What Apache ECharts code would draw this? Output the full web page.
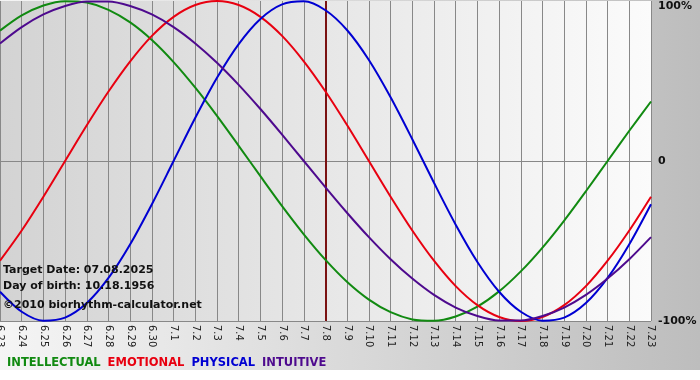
<!DOCTYPE html>
<html>
<head>
<meta charset="utf-8">
<script src="https://cdn.jsdelivr.net/npm/echarts@6/dist/echarts.min.js"></script>
<style>html,body{margin:0;padding:0;background:#fff}#c{width:700px;height:380px}</style>
</head>
<body>
<div id="c"></div>
<script>
var days = ['6.23','6.24','6.25','6.26','6.27','6.28','6.29','6.30','7.1','7.2','7.3','7.4','7.5','7.6','7.7','7.8','7.9','7.10','7.11','7.12','7.13','7.14','7.15','7.16','7.17','7.18','7.19','7.20','7.21','7.22','7.23'];
var intellectual = [81.5,91.0,97.2,99.9,99.0,94.5,86.6,75.6,61.8,45.8,28.2,9.5,-9.5,-28.2,-45.8,-61.8,-75.6,-86.6,-94.5,-99.0,-99.9,-97.2,-91.0,-81.5,-69.0,-54.1,-37.2,-18.9,0,18.9,37.2];
var emotional = [-62.3,-43.4,-22.3,0,22.3,43.4,62.3,78.2,90.1,97.5,100,97.5,90.1,78.2,62.3,43.4,22.3,0,-22.3,-43.4,-62.3,-78.2,-90.1,-97.5,-100,-97.5,-90.1,-78.2,-62.3,-43.4,-22.3];
var physical = [-81.7,-94.2,-99.8,-97.9,-88.8,-73.1,-52.0,-27.0,0,27.0,52.0,73.1,88.8,97.9,99.8,94.2,81.7,63.1,39.8,13.6,-13.6,-39.8,-63.1,-81.7,-94.2,-99.8,-97.9,-88.8,-73.1,-52.0,-27.0];
var intuitive = [73.5,83.7,91.6,96.9,99.7,99.7,96.9,91.6,83.7,73.5,61.4,47.6,32.5,16.5,0,-16.5,-32.5,-47.6,-61.4,-73.5,-83.7,-91.6,-96.9,-99.7,-99.7,-96.9,-91.6,-83.7,-73.5,-61.4,-47.6];
var targetDay = '7.8';
var yTicks = {'100':'100%','0':'0','-100':'-100%'};
var infoLines = ['Target Date: 07.08.2025','Day of birth: 10.18.1956','\u00a92010 biorhythm-calculator.net'];

var colors = {INTELLECTUAL:'#118a11', EMOTIONAL:'#e80010', PHYSICAL:'#0000d2', INTUITIVE:'#4e0a8e'};
var font = 'DejaVu Sans, Verdana, sans-serif';

function line(name, data, extra){
  var s = {name:name, type:'line', data:data, smooth:0.3, symbol:'none',
    lineStyle:{color:colors[name], width:2}, itemStyle:{color:colors[name]}, z:5};
  if (extra) for (var k in extra) s[k]=extra[k];
  return s;
}

var chart = echarts.init(document.getElementById('c'), null, {renderer:'canvas'});
chart.setOption({
  animation:false,
  backgroundColor:{type:'linear',x:0,y:0,x2:1,y2:0,colorStops:[{offset:0,color:'#f5f5f5'},{offset:1,color:'#bdbdbd'}]},
  graphic:[
    {type:'rect', left:0, top:370, shape:{width:700,height:10}, style:{fill:'#ffffff'}, z:-5},
    {type:'text', left:3, top:265, z:100, style:{text:infoLines[0], font:'bold 11px '+font, fill:'#111'}},
    {type:'text', left:3, top:281, z:100, style:{text:infoLines[1], font:'bold 11px '+font, fill:'#111'}},
    {type:'text', left:3, top:300, z:100, style:{text:infoLines[2], font:'bold 11px '+font, fill:'#111'}}
  ],
  legend:{left:-3, top:351, icon:'none', itemWidth:0, itemGap:2, selectedMode:false,
    textStyle:{fontFamily:font, fontWeight:'bold', fontSize:11.5},
    data:[
      {name:'INTELLECTUAL', textStyle:{color:colors.INTELLECTUAL}},
      {name:'EMOTIONAL', textStyle:{color:colors.EMOTIONAL}},
      {name:'PHYSICAL', textStyle:{color:colors.PHYSICAL}},
      {name:'INTUITIVE', textStyle:{color:colors.INTUITIVE}}
    ]},
  grid:{left:0, right:49, top:1, bottom:59, show:true, borderWidth:0, containLabel:false, outerBoundsMode:'none',
    backgroundColor:{type:'linear',x:0,y:0,x2:1,y2:0,colorStops:[{offset:0,color:'#d3d3d3'},{offset:1,color:'#fbfbfb'}]}},
  xAxis:{type:'category', data:days, boundaryGap:false,
    axisLine:{show:true, lineStyle:{color:'#888', width:1}},
    axisTick:{show:true, length:5, lineStyle:{color:'#888'}},
    splitLine:{show:true, lineStyle:{color:'#888', width:1}},
    axisLabel:{rotate:-90, margin:4, color:'#222', fontSize:10, fontFamily:font, interval:0, hideOverlap:false}},
  yAxis:{type:'value', position:'right', min:-100, max:100, interval:100,
    axisLine:{show:false}, axisTick:{show:false},
    splitLine:{show:true, lineStyle:{color:['#888','#888','rgba(0,0,0,0)'], width:1}},
    axisLabel:{margin:7, color:'#111', fontSize:11, fontWeight:'bold', fontFamily:font,
      formatter:function(v){ return v === 100 ? '{top|' + yTicks[String(v)] + '}' : yTicks[String(v)]; },
      rich:{top:{padding:[11,0,0,0], color:'#111', fontSize:11, fontWeight:'bold', fontFamily:font}}}},
  series:[
    line('INTELLECTUAL', intellectual, {markLine:{silent:true, symbol:'none', label:{show:false},
      lineStyle:{color:'#7a1212', width:2, type:'solid'}, data:[{xAxis:targetDay}], z:4}}),
    line('EMOTIONAL', emotional),
    line('PHYSICAL', physical),
    line('INTUITIVE', intuitive)
  ]
});
</script>
</body>
</html>
